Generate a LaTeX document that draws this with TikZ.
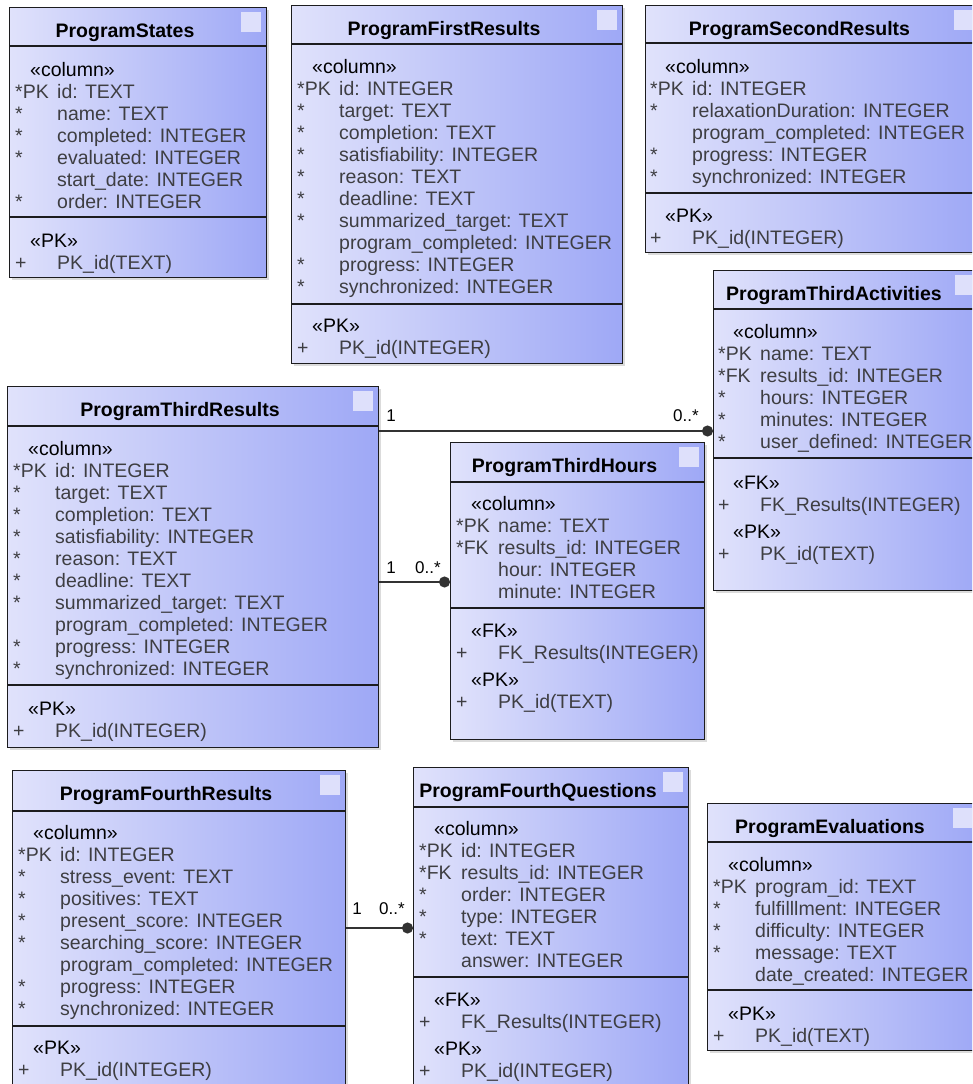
\documentclass[tikz,border=0pt]{standalone}
\usepackage{fontspec}
\setmainfont{Liberation Sans}
\usetikzlibrary{arrows.meta,shadows}

\definecolor{boxleft}{RGB}{224,226,251}
\definecolor{boxright}{RGB}{158,168,246}
\definecolor{tagsq}{RGB}{222,224,251}
\definecolor{attrgray}{RGB}{62,62,66}
\definecolor{edgegray}{RGB}{28,28,30}
\definecolor{linkgray}{RGB}{50,50,50}

\tikzset{
  tablebox/.style={draw=edgegray, line width=1.3pt, left color=boxleft,
    right color=boxright, inner sep=0pt, anchor=north west,
    drop shadow={shadow xshift=2.5pt, shadow yshift=-2.5pt, opacity=0.28}},
  divider/.style={draw=edgegray, line width=1.1pt},
  tabtitle/.style={font=\fontsize{19.5}{22}\selectfont\bfseries, anchor=base,
    inner sep=0pt, text=black},
  tabtext/.style={font=\fontsize{19.5}{22}\selectfont, anchor=base west,
    inner sep=0pt, text=attrgray},
  link/.style={draw=linkgray, line width=1.3pt, -{Circle[length=11pt]}},
  mult/.style={font=\fontsize{17}{20}\selectfont, inner sep=0pt, text=black}
}

% one table row: key marker column, then the field text
\newcommand\fld[2]{\makebox[42pt][l]{#1}#2}
% stereotype heading of a compartment
\newcommand\sttag[1]{\hspace*{15pt}\textcolor{black}{«#1»}}

% #1 name, #2 left, #3 top, #4 right, #5 bottom, #6 first rule, #7 second rule, #8 title
\newcommand\tablebox[8]{%
  \node[tablebox, minimum width={#4pt-#2pt}, minimum height={#5pt-#3pt}] (#1) at (#2,#3) {};
  \draw[divider] (#2,#6) -- (#4,#6);
  \draw[divider] (#2,#7) -- (#4,#7);
  \fill[tagsq] (#4-25,#3+5) rectangle ++(20,20);
  \node[tabtitle] (#1-title) at ({(#2+#4-25)/2},#3+30) {#8};
}

\begin{document}
\begin{tikzpicture}[x=1pt,y=-1pt]
\useasboundingbox (0,0) rectangle (972,1084);
\fill[white] (0,0) rectangle (972,1084);
\clip (0,0) rectangle (972,1084);

% ---------- ProgramStates ----------
\tablebox{states}{9}{7}{266}{277}{46}{217}{ProgramStates}
\node[tabtext] (states-cols) at (15,76) {\begin{tabular}[t]{@{}l@{}}
\sttag{column}\\
\fld{*PK}{id: TEXT}\\
\fld{*}{name: TEXT}\\
\fld{*}{completed: INTEGER}\\
\fld{*}{evaluated: INTEGER}\\
\fld{}{start\_date: INTEGER}\\
\fld{*}{order: INTEGER}
\end{tabular}};
\node[tabtext] (states-keys) at (15,247) {\begin{tabular}[t]{@{}l@{}}
\sttag{PK}\\
\fld{+}{PK\_id(TEXT)}
\end{tabular}};

% ---------- ProgramFirstResults ----------
\tablebox{first}{291}{5}{622}{363}{44}{304}{ProgramFirstResults}
\node[tabtext] (first-cols) at (297,73) {\begin{tabular}[t]{@{}l@{}}
\sttag{column}\\
\fld{*PK}{id: INTEGER}\\
\fld{*}{target: TEXT}\\
\fld{*}{completion: TEXT}\\
\fld{*}{satisfiability: INTEGER}\\
\fld{*}{reason: TEXT}\\
\fld{*}{deadline: TEXT}\\
\fld{*}{summarized\_target: TEXT}\\
\fld{}{program\_completed: INTEGER}\\
\fld{*}{progress: INTEGER}\\
\fld{*}{synchronized: INTEGER}
\end{tabular}};
\node[tabtext] (first-keys) at (297,332) {\begin{tabular}[t]{@{}l@{}}
\sttag{PK}\\
\fld{+}{PK\_id(INTEGER)}
\end{tabular}};

% ---------- ProgramSecondResults ----------
\tablebox{second}{645}{5}{979}{252}{43}{193}{ProgramSecondResults}
\node[tabtext] (second-cols) at (650,73.5) {\begin{tabular}[t]{@{}l@{}}
\sttag{column}\\
\fld{*PK}{id: INTEGER}\\
\fld{*}{relaxationDuration: INTEGER}\\
\fld{}{program\_completed: INTEGER}\\
\fld{*}{progress: INTEGER}\\
\fld{*}{synchronized: INTEGER}
\end{tabular}};
\node[tabtext] (second-keys) at (650,222) {\begin{tabular}[t]{@{}l@{}}
\sttag{PK}\\
\fld{+}{PK\_id(INTEGER)}
\end{tabular}};

% ---------- ProgramThirdActivities ----------
\tablebox{thirdact}{713}{270}{980}{590}{309}{458}{ProgramThirdActivities}
\node[tabtext] (thirdact-cols) at (718,338.5) {\begin{tabular}[t]{@{}l@{}}
\sttag{column}\\
\fld{*PK}{name: TEXT}\\
\fld{*FK}{results\_id: INTEGER}\\
\fld{*}{hours: INTEGER}\\
\fld{*}{minutes: INTEGER}\\
\fld{*}{user\_defined: INTEGER}
\end{tabular}};
\node[tabtext] (thirdact-keys) at (718,489) {\begin{tabular}[t]{@{}l@{}}
\sttag{FK}\\
\fld{+}{FK\_Results(INTEGER)}\\[5pt]
\sttag{PK}\\
\fld{+}{PK\_id(TEXT)}
\end{tabular}};

% ---------- ProgramThirdResults ----------
\tablebox{thirdres}{7}{386}{378}{747}{426}{685}{ProgramThirdResults}
\node[tabtext] (thirdres-cols) at (13,455.5) {\begin{tabular}[t]{@{}l@{}}
\sttag{column}\\
\fld{*PK}{id: INTEGER}\\
\fld{*}{target: TEXT}\\
\fld{*}{completion: TEXT}\\
\fld{*}{satisfiability: INTEGER}\\
\fld{*}{reason: TEXT}\\
\fld{*}{deadline: TEXT}\\
\fld{*}{summarized\_target: TEXT}\\
\fld{}{program\_completed: INTEGER}\\
\fld{*}{progress: INTEGER}\\
\fld{*}{synchronized: INTEGER}
\end{tabular}};
\node[tabtext] (thirdres-keys) at (13,715) {\begin{tabular}[t]{@{}l@{}}
\sttag{PK}\\
\fld{+}{PK\_id(INTEGER)}
\end{tabular}};

% ---------- ProgramThirdHours ----------
\tablebox{thirdhours}{450}{442}{704}{739}{482}{608}{ProgramThirdHours}
\node[tabtext] (thirdhours-cols) at (456,510.5) {\begin{tabular}[t]{@{}l@{}}
\sttag{column}\\
\fld{*PK}{name: TEXT}\\
\fld{*FK}{results\_id: INTEGER}\\
\fld{}{hour: INTEGER}\\
\fld{}{minute: INTEGER}
\end{tabular}};
\node[tabtext] (thirdhours-keys) at (456,637) {\begin{tabular}[t]{@{}l@{}}
\sttag{FK}\\
\fld{+}{FK\_Results(INTEGER)}\\[5pt]
\sttag{PK}\\
\fld{+}{PK\_id(TEXT)}
\end{tabular}};

% ---------- ProgramFourthResults ----------
\tablebox{fourthres}{12}{770}{345}{1095}{811}{1026}{ProgramFourthResults}
\node[tabtext] (fourthres-cols) at (18,839.5) {\begin{tabular}[t]{@{}l@{}}
\sttag{column}\\
\fld{*PK}{id: INTEGER}\\
\fld{*}{stress\_event: TEXT}\\
\fld{*}{positives: TEXT}\\
\fld{*}{present\_score: INTEGER}\\
\fld{*}{searching\_score: INTEGER}\\
\fld{}{program\_completed: INTEGER}\\
\fld{*}{progress: INTEGER}\\
\fld{*}{synchronized: INTEGER}
\end{tabular}};
\node[tabtext] (fourthres-keys) at (18,1054) {\begin{tabular}[t]{@{}l@{}}
\sttag{PK}\\
\fld{+}{PK\_id(INTEGER)}
\end{tabular}};

% ---------- ProgramFourthQuestions ----------
\tablebox{fourthq}{413}{767}{688}{1095}{807}{977}{ProgramFourthQuestions}
\node[tabtext] (fourthq-cols) at (419,835.5) {\begin{tabular}[t]{@{}l@{}}
\sttag{column}\\
\fld{*PK}{id: INTEGER}\\
\fld{*FK}{results\_id: INTEGER}\\
\fld{*}{order: INTEGER}\\
\fld{*}{type: INTEGER}\\
\fld{*}{text: TEXT}\\
\fld{}{answer: INTEGER}
\end{tabular}};
\node[tabtext] (fourthq-keys) at (419,1006) {\begin{tabular}[t]{@{}l@{}}
\sttag{FK}\\
\fld{+}{FK\_Results(INTEGER)}\\[5pt]
\sttag{PK}\\
\fld{+}{PK\_id(INTEGER)}
\end{tabular}};

% ---------- ProgramEvaluations ----------
\tablebox{evals}{707}{803}{978}{1050}{842}{990}{ProgramEvaluations}
\node[tabtext] (evals-cols) at (713,871.5) {\begin{tabular}[t]{@{}l@{}}
\sttag{column}\\
\fld{*PK}{program\_id: TEXT}\\
\fld{*}{fulfilllment: INTEGER}\\
\fld{*}{difficulty: INTEGER}\\
\fld{*}{message: TEXT}\\
\fld{}{date\_created: INTEGER}
\end{tabular}};
\node[tabtext] (evals-keys) at (713,1020) {\begin{tabular}[t]{@{}l@{}}
\sttag{PK}\\
\fld{+}{PK\_id(TEXT)}
\end{tabular}};

% ---------- foreign key links ----------
\draw[link] (thirdres.east |- 0,431) -- (thirdact.west |- 0,431);
\draw[link] (thirdres.east |- 0,582) -- (thirdhours.west |- 0,582);
\draw[link] (fourthres.east |- 0,928) -- (fourthq.west |- 0,928);

\node[mult, anchor=base] (act-one) at (391,421) {1};
\node[mult, anchor=base west] (act-many) at (673,421) {0..*};
\node[mult, anchor=base] (hours-one) at (391,573) {1};
\node[mult, anchor=base west] (hours-many) at (415,573) {0..*};
\node[mult, anchor=base] (quest-one) at (357,914) {1};
\node[mult, anchor=base west] (quest-many) at (379,914) {0..*};
\end{tikzpicture}
\end{document}
